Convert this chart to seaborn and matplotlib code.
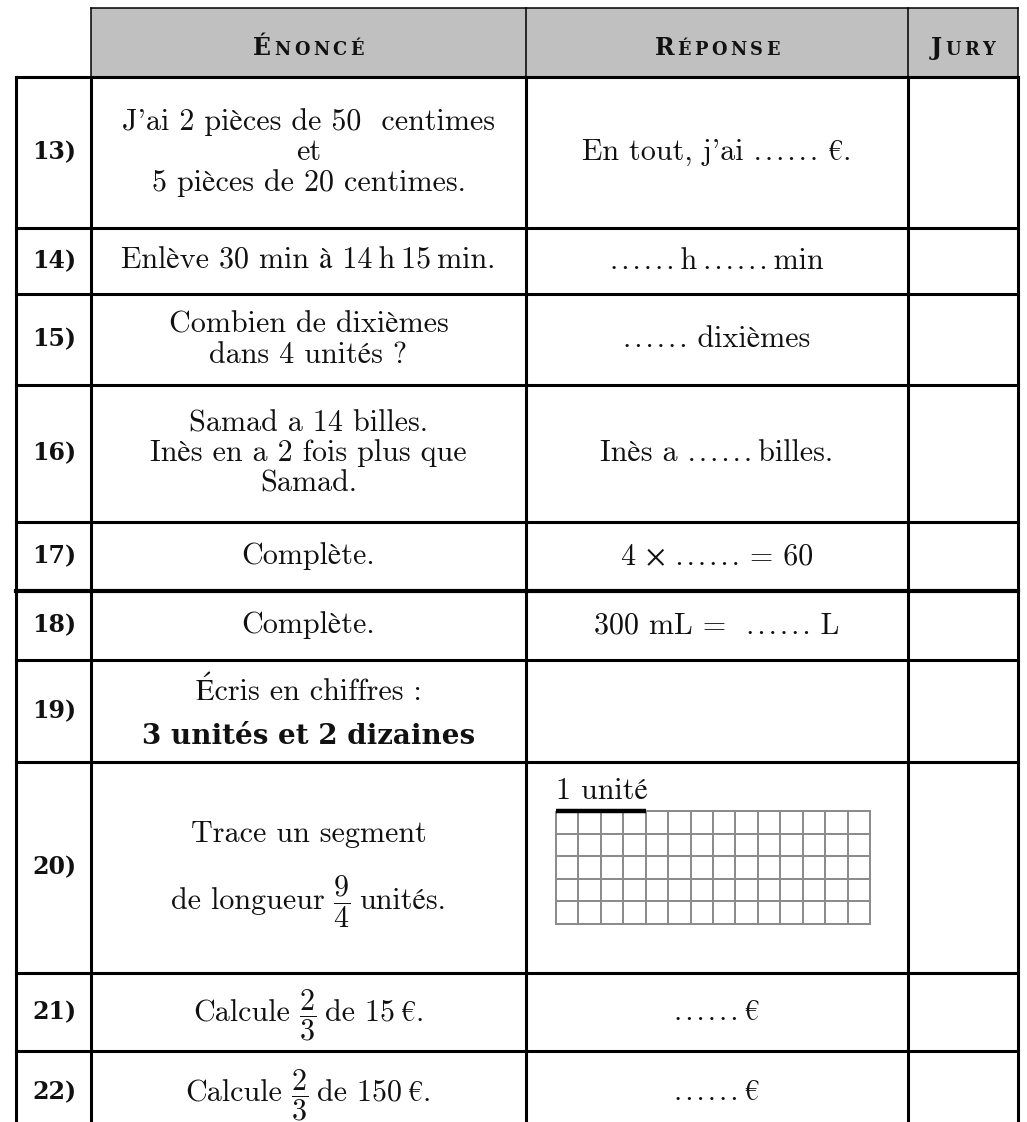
import numpy as np
import matplotlib
matplotlib.use('Agg')
import matplotlib.pyplot as plt
import seaborn as sns
from matplotlib.colors import ListedColormap
from matplotlib.patches import Rectangle

sns.set_style('white')
plt.rcParams['font.family'] = ['cmr10', 'STIXGeneral', 'DejaVu Serif']
plt.rcParams['mathtext.fontset'] = 'cm'
plt.rcParams['axes.unicode_minus'] = False

DOTS = '\u200a'.join('......')

# table content
headers = ['Énoncé', 'Réponse', 'Jury']
row_labels = ['13)', '14)', '15)', '16)', '17)', '18)', '19)', '20)', '21)', '22)']
enonces = [
    "J'ai 2 pièces de 50  centimes\net\n5 pièces de 20 centimes.",
    "Enlève 30 min à 14\u2009h\u200915\u2009min.",
    "Combien de dixièmes\ndans 4 unités ?",
    "Samad a 14 billes.\nInès en a 2 fois plus que\nSamad.",
    "Complète.",
    "Complète.",
    "Écris en chiffres :",
    "Trace un segment",
    None,
    None,
]
enonce_bold_19 = '3 unités et 2 dizaines'
fraction_rows = {
    7: ('de longueur', r'$\dfrac{9}{4}$', 'unités.'),
    8: ('Calcule', r'$\dfrac{2}{3}$', 'de 15\u2009€.'),
    9: ('Calcule', r'$\dfrac{2}{3}$', 'de 150\u2009€.'),
}
reponses = [
    f"En tout, j'ai {DOTS} €.",
    f"{DOTS}\u2009h\u2009{DOTS}\u2009min",
    f"{DOTS} dixièmes",
    f"Inès a {DOTS}\u2009billes.",
    f"4 × {DOTS} = 60",
    f"300 mL =  {DOTS} L",
    "",
    None,
    f"{DOTS}\u2009€",
    f"{DOTS}\u2009€",
]
grid_rows, grid_cols, unit_cells = 5, 14, 4
unit_label = '1 unité'

# layout (pixels)
W, H = 1027, 1122
col_x = [16, 91, 526, 908, 1018]
head_top, head_bot = 8, 77
row_edges = [77, 228, 294, 385, 522, 591, 660, 762, 973, 1051, 1135]
FS = 21.7

fig = plt.figure(figsize=(W / 100, H / 100), dpi=100)
ax = fig.add_axes([0, 0, 1, 1])
ax.set_xlim(0, W)
ax.set_ylim(H, 0)
ax.axis('off')
renderer = fig.canvas.get_renderer()


def inline(xc, y, pieces):
    # pieces: (text, kwargs, gap after) on one baseline, centred on xc
    texts, gaps = [], []
    for s, kw, gap in pieces:
        texts.append(ax.text(0, y, s, ha='left', va='baseline', **kw))
        gaps.append(gap)
    widths = [t.get_window_extent(renderer).width for t in texts]
    x = xc - (sum(widths) + sum(gaps[:-1])) / 2
    for t, w, g in zip(texts, widths, gaps):
        t.set_x(x)
        x += w + g


bold = dict(family=['DejaVu Serif'], weight='bold', color='#111111')

# header
ax.add_patch(Rectangle((col_x[1], head_top), col_x[4] - col_x[1], head_bot - head_top,
                       fc='#c0c0c0', ec='none'))
thin = dict(color='black', lw=1.1, solid_capstyle='projecting')
thick = dict(color='black', lw=2.2, solid_capstyle='projecting')
ax.plot([col_x[1], col_x[4]], [head_top, head_top], **thin)
for x in col_x[1:]:
    ax.plot([x, x], [head_top, head_bot], **thin)

for i, h in enumerate(headers):
    xc = (col_x[i + 1] + col_x[i + 2]) / 2
    letters = [(h[0].upper(), dict(fontsize=17, **bold), 3)]
    letters += [(c.upper(), dict(fontsize=12.8, **bold), 3.5) for c in h[1:]]
    inline(xc, 55, letters)

# body lines
ax.plot([col_x[0], col_x[4]], [head_bot, head_bot], **thick)
for x in col_x:
    ax.plot([x, x], [head_bot, H + 10], **thick)
for y in row_edges[1:]:
    lw = 3.0 if y == 591 else 2.2
    ax.plot([col_x[0], col_x[4]], [y, y], color='black', lw=lw, solid_capstyle='projecting')

# rows
xc_lab = (col_x[0] + col_x[1]) / 2
xc_en = (col_x[1] + col_x[2]) / 2
xc_rep = (col_x[2] + col_x[3]) / 2
reg = dict(fontsize=FS, color='#111111')
for i, lab in enumerate(row_labels):
    y0, y1 = row_edges[i], row_edges[i + 1]
    yc = (y0 + y1) / 2
    if i == 9:
        yc = 1092
    ax.text(xc_lab + 1, yc, lab, ha='center', va='center', fontsize=17, **bold)
    if i == 6:
        ax.text(xc_en, 700, enonces[i], ha='center', va='baseline', **reg)
        ax.text(xc_en, 744, enonce_bold_19, ha='center', va='baseline',
                fontsize=20, **bold)
    elif i == 7:
        ax.text(xc_en, 842, enonces[i], ha='center', va='baseline', **reg)
        a, f, b = fraction_rows[i]
        inline(xc_en, 909, [(a, reg, 9), (f, reg, 9), (b, reg, 0)])
    elif i in fraction_rows:
        a, f, b = fraction_rows[i]
        inline(xc_en, yc + 9, [(a, reg, 9), (f, reg, 9), (b, reg, 0)])
    else:
        ax.text(xc_en, yc, enonces[i], ha='center', va='center',
                multialignment='center', linespacing=1.1, **reg)
    if reponses[i]:
        ax.text(xc_rep, yc, reponses[i], ha='center', va='center', **reg)

# row 20 answer: squared grid with a unit bar
gx0, gy0, gw, gh = 556, 811, 314, 113
ax.text(gx0, 799, unit_label, ha='left', va='baseline', **reg)
gax = fig.add_axes([gx0 / W, 1 - (gy0 + gh) / H, gw / W, gh / H])
sns.heatmap(np.zeros((grid_rows, grid_cols)), cmap=ListedColormap(['white']), cbar=False,
            linewidths=1.3, linecolor='#8c8c8c', xticklabels=False, yticklabels=False, ax=gax)
gax.collections[0].set_clip_on(False)
gax.plot([0, unit_cells], [0, 0], color='black', lw=3.2, solid_capstyle='butt', clip_on=False)

fig.savefig('out.png', dpi=100)
